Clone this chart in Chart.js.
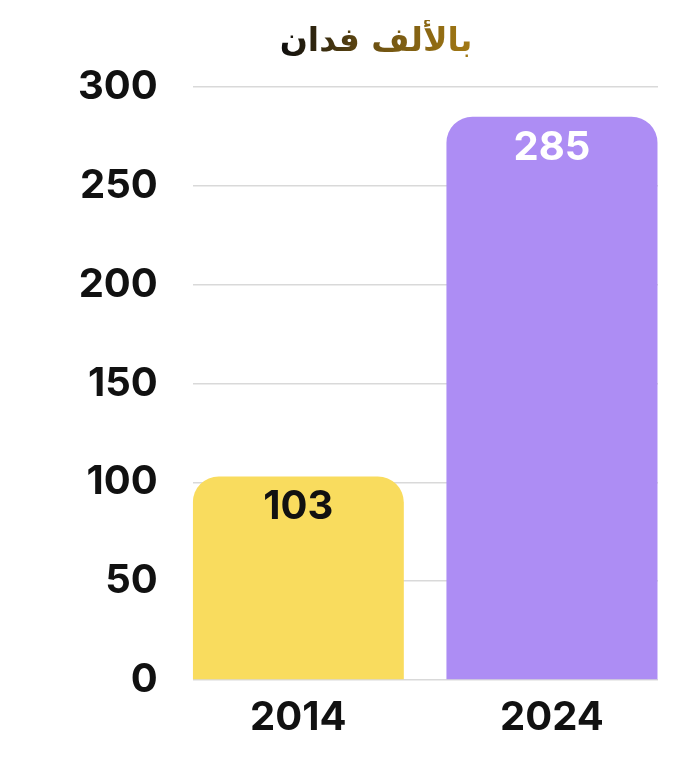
<!DOCTYPE html>
<html lang="ar">
<head>
  <meta charset="UTF-8">
  <title>بالألف فدان</title>
  <style>
    body, html {
      margin: 0;
      width: 700px;
      height: 770px;
      background: #ffffff;
      overflow: hidden;
    }
    #wrap {
      position: relative;
      width: 700px;
      height: 770px;
    }
    #title {
      position: absolute;
      top: 20px;
      left: 0;
      width: 752px;
      text-align: center;
      font-family: "DejaVu Sans", "Noto Sans", sans-serif;
      font-weight: bold;
      font-size: 33px;
      direction: rtl;
    }
    #title span {
      background: linear-gradient(to left, #a47a14 0%, #6e5212 50%, #0d0d0d 100%);
      -webkit-background-clip: text;
      background-clip: text;
      color: transparent;
    }
  </style>
</head>
<body>
  <div id="wrap">
    <div id="title"><span>بالألف فدان</span></div>
    <canvas id="areaChart" width="700" height="770"></canvas>
  </div>

  <script src="https://cdn.jsdelivr.net/npm/chart.js"></script>
  <script>
    const years = ['2014', '2024'];
    const areaValues = [103, 285];
    const barColors = ['#f9dc5e', '#ad8df4'];
    const labelColors = ['#111111', '#ffffff'];
    const yTicks = [0, 50, 100, 150, 200, 250, 300];

    const FONT = '"Inter", "Liberation Sans", sans-serif';

    // value labels drawn at the top inside each bar
    const valueLabels = {
      id: 'valueLabels',
      afterDatasetsDraw(chart) {
        const ctx = chart.ctx;
        const meta = chart.getDatasetMeta(0);
        ctx.save();
        ctx.font = 'bold 40px ' + FONT;
        ctx.textAlign = 'center';
        ctx.textBaseline = 'middle';
        meta.data.forEach((bar, i) => {
          ctx.fillStyle = labelColors[i];
          ctx.fillText(String(areaValues[i]), bar.x, bar.y + 31);
        });
        ctx.restore();
      }
    };

    const ctx = document.getElementById('areaChart').getContext('2d');
    new Chart(ctx, {
      type: 'bar',
      data: {
        datasets: [{
          data: areaValues.map((v, i) => ({ x: i, y: v })),
          backgroundColor: barColors,
          borderRadius: { topLeft: 26, topRight: 26, bottomLeft: 0, bottomRight: 0 },
          borderSkipped: false,
          categoryPercentage: 1,
          barPercentage: 0.832
        }]
      },
      options: {
        responsive: false,
        animation: false,
        layout: {
          padding: { top: 87, right: 42, bottom: 14, left: 43 }
        },
        plugins: {
          legend: { display: false },
          tooltip: { enabled: false },
          title: { display: false }
        },
        scales: {
          y: {
            min: 0,
            max: 300,
            afterBuildTicks(axis) {
              axis.ticks = yTicks.map(v => ({ value: v }));
            },
            border: { display: false },
            grid: {
              color: '#d9d9d9',
              lineWidth: 1.5,
              drawTicks: false
            },
            ticks: {
              padding: 35,
              color: '#111111',
              font: { family: FONT, size: 40, weight: 'bold' }
            }
          },
          x: {
            type: 'linear',
            offset: false,
            min: -0.416,
            max: 1.418,
            afterBuildTicks(axis) {
              axis.ticks = years.map((y, i) => ({ value: i }));
            },
            afterFit(scale) {
              scale.paddingLeft = 0;
              scale.paddingRight = 0;
            },
            border: { display: false },
            grid: { display: false, drawTicks: false },
            ticks: {
              padding: 14,
              color: '#111111',
              font: { family: FONT, size: 40, weight: 'bold' },
              callback: (value) => years[value]
            }
          }
        }
      },
      plugins: [valueLabels]
    });
  </script>
</body>
</html>
